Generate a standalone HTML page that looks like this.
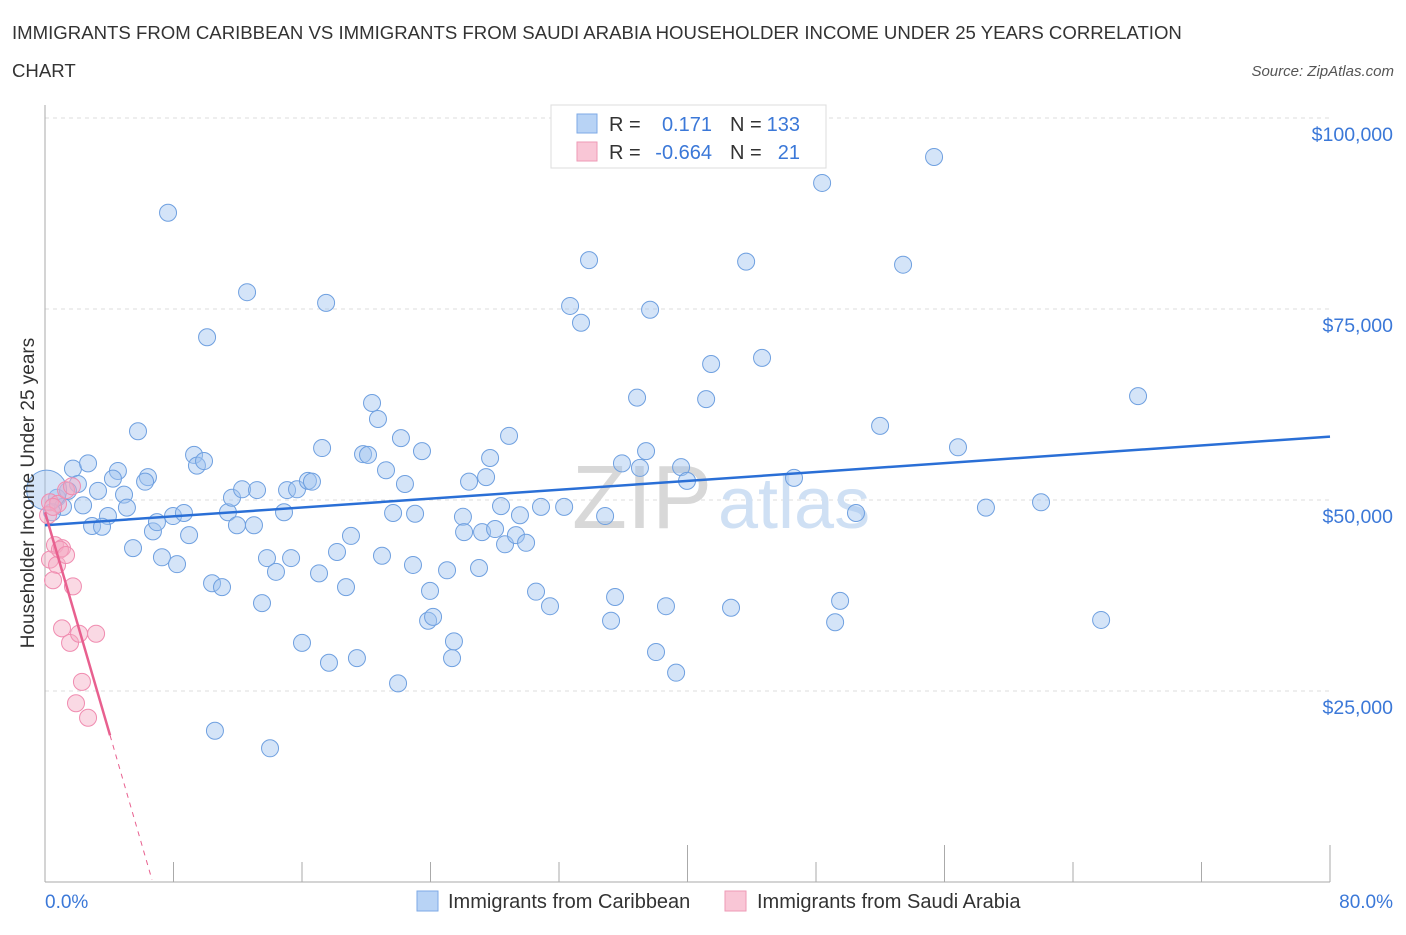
<!DOCTYPE html>
<html><head><meta charset="utf-8"><style>
body{margin:0;background:#fff;font-family:"Liberation Sans",sans-serif;}
svg text{font-family:"Liberation Sans",sans-serif;}
</style></head><body>
<svg id="c" width="1406" height="930" xmlns="http://www.w3.org/2000/svg">
<text x="12" y="39" font-size="18.6" fill="#333">IMMIGRANTS FROM CARIBBEAN VS IMMIGRANTS FROM SAUDI ARABIA HOUSEHOLDER INCOME UNDER 25 YEARS CORRELATION</text>
<text x="12" y="77" font-size="18.6" fill="#333">CHART</text>
<text x="1394" y="76" font-size="15" fill="#555" font-style="italic" text-anchor="end">Source: ZipAtlas.com</text>
<g id="grid"></g>
<text x="712" y="528" font-size="90" fill="#d8d8d8" font-family="Liberation Serif" text-anchor="end">ZIP</text>
<text x="718" y="528" font-size="72" fill="#cfe0f4">atlas</text>
<g id="pts"></g>
<g id="lines"></g>
<text transform="translate(34,493) rotate(-90)" font-size="19" fill="#333" text-anchor="middle">Householder Income Under 25 years</text>
<text x="45" y="908" font-size="19" fill="#3b78d8">0.0%</text>
<text x="1393" y="908" font-size="19" fill="#3b78d8" text-anchor="end">80.0%</text>
<g>
<rect x="551" y="105" width="275" height="63" fill="#fff" stroke="#ddd"/>
<rect x="577" y="114" width="20" height="19" fill="#b8d3f5" stroke="#7eaae6"/>
<rect x="577" y="142" width="20" height="19" fill="#f9c6d6" stroke="#ee9ab6"/>
<text x="609" y="131" font-size="20" fill="#333">R =</text><text x="712" y="131" font-size="20" fill="#3b78d8" text-anchor="end">0.171</text>
<text x="730" y="131" font-size="20" fill="#333">N =</text><text x="800" y="131" font-size="20" fill="#3b78d8" text-anchor="end">133</text>
<text x="609" y="159" font-size="20" fill="#333">R =</text><text x="712" y="159" font-size="20" fill="#3b78d8" text-anchor="end">-0.664</text>
<text x="730" y="159" font-size="20" fill="#333">N =</text><text x="800" y="159" font-size="20" fill="#3b78d8" text-anchor="end">21</text>
</g>
<g>
<rect x="417" y="891" width="21" height="20" fill="#b8d3f5" stroke="#7eaae6"/>
<text x="448" y="908" font-size="20" fill="#333">Immigrants from Caribbean</text>
<rect x="725" y="891" width="21" height="20" fill="#f9c6d6" stroke="#ee9ab6"/>
<text x="757" y="908" font-size="20" fill="#333">Immigrants from Saudi Arabia</text>
</g>
</svg>
<script>
const yTicks=[25000,50000,75000,100000];
const yTickLabels=["$25,000","$50,000","$75,000","$100,000"];
const caribX=[7.66,12.58,17.5,10.09,5.79,1.74,2.68,4.54,4.23,2.05,3.3,4.92,6.41,6.23,2.37,5.1,3.92,2.93,3.55,5.48,6.72,6.97,7.28,8.22,7.97,8.65,8.97,9.28,9.46,9.9,10.4,11.02,11.39,11.64,11.95,12.27,13.01,13.2,13.51,13.82,14.38,14.88,15.07,15.32,15.69,16,16.37,16.62,17.06,17.25,17.68,18.18,18.74,19.05,19.42,19.8,20.11,20.36,20.73,20.98,21.23,21.67,21.98,22.16,22.41,22.91,23.04,23.47,23.85,23.97,24.16,25.03,25.34,25.46,26.02,26.09,26.4,27.02,27.21,27.46,27.71,28.02,28.39,28.64,28.89,29.32,29.57,29.95,30.57,30.88,31.44,32.32,32.69,33.37,33.87,34.87,35.24,35.49,35.92,36.86,37.04,37.42,37.67,38.04,38.66,39.29,39.6,39.97,41.16,41.47,42.71,43.65,44.64,46.63,48.38,49.19,49.5,50.49,51.99,53.42,55.35,56.84,58.58,62.01,65.75,68.05,10.58,14.01,0.75,1.12,0.44,1.43,0.1];
const caribY=[87.6,77.2,75.8,71.3,59,54.1,54.8,53.8,52.8,52.1,51.2,50.7,53,52.4,49.3,49,47.9,46.6,46.5,43.7,45.9,47.1,42.5,41.6,47.9,48.3,45.4,55.9,54.5,55.1,39.1,38.6,48.4,50.3,46.7,51.4,46.7,51.3,36.5,42.4,40.6,48.4,51.3,42.4,51.4,31.3,52.5,52.4,40.4,56.8,28.7,43.2,38.6,45.3,29.3,56,55.9,62.7,60.6,42.7,53.9,48.3,26,58.1,52.1,41.5,48.2,56.4,34.2,38.1,34.7,40.8,29.3,31.5,47.8,45.8,52.4,41.1,45.8,53,55.5,46.2,49.2,44.2,58.4,45.4,48,44.4,38,49.1,36.1,49.1,75.4,73.2,81.4,47.9,34.2,37.3,54.8,63.4,54.2,56.4,74.9,30.1,36.1,27.4,54.3,52.5,63.2,67.8,35.9,81.2,68.6,52.9,91.5,34,36.8,48.3,59.7,80.8,94.9,56.9,49,49.7,34.3,63.6,19.8,17.5,50.3,49.1,48.4,51.2,51.3];
const saudiX=[0.31,0.81,1.31,1.68,0.62,1.06,0.31,0.75,0.5,1.74,1.06,1.56,2.12,3.18,2.3,1.93,2.68,0.93,0.19,1.31,0.5];
const saudiY=[49.7,49.5,51.3,51.8,44.1,43.7,42.2,41.5,39.5,38.7,33.2,31.3,32.5,32.5,26.2,23.4,21.5,43.5,48,42.8,49.1];
const caribTrend=[46.7,58.3];
const saudiTrend=[48.4,19.2,0.3];
const saudiTrendX=[0,4.05,6.66];
const NS="http://www.w3.org/2000/svg";
const X=v=>45+v/80*1285, Y=v=>882-v/25*191;
function mk(t,a,p){const e=document.createElementNS(NS,t);for(const k in a)e.setAttribute(k,a[k]);p.appendChild(e);return e;}
const grid=document.getElementById('grid');
yTicks.forEach((t,i)=>{
 const l=mk('line',{x1:45,x2:1330,y1:Y(t/1000),y2:Y(t/1000),stroke:'#ddd','stroke-dasharray':'4,4'},grid);
 
 
 const tx=mk('text',{x:1393,y:Y(t/1000)+23,'font-size':19.5,fill:'#3b78d8','text-anchor':'end'},grid);
 tx.textContent=yTickLabels[i];
 
 
});
const ax=mk('line',{x1:45,x2:45,y1:105,y2:882,stroke:'#aaa'},grid);


const bx=mk('line',{x1:45,x2:1330,y1:882,y2:882,stroke:'#aaa'},grid);


for(let i=1;i<=10;i++){
 const long=(i==5||i==7||i==10);
 const t=mk('line',{x1:X(i*8),x2:X(i*8),y1:long?845:862,y2:882,stroke:'#aaa'},grid);
 
 
}
const pts=document.getElementById('pts');
caribX.forEach((x,i)=>{
 const c=mk('circle',{cx:X(x),cy:Y(caribY[i]),r:i==caribX.length-1?20:8.5,fill:'rgba(160,196,240,0.45)',stroke:'#6fa0e0','stroke-width':1},pts);
 
 
});
saudiX.forEach((x,i)=>{
 const c=mk('circle',{cx:X(x),cy:Y(saudiY[i]),r:8.5,fill:'rgba(245,170,196,0.45)',stroke:'#f08cb0','stroke-width':1},pts);
 
 
});
const lines=document.getElementById('lines');
const bl=mk('line',{x1:X(0),y1:Y(caribTrend[0]),x2:X(80),y2:Y(caribTrend[1]),stroke:'#2a6fd6','stroke-width':2.5},lines);


const pl=mk('line',{x1:X(saudiTrendX[0]),y1:Y(saudiTrend[0]),x2:X(saudiTrendX[1]),y2:Y(saudiTrend[1]),stroke:'#e8608f','stroke-width':2.5},lines);


const pd=mk('line',{x1:X(saudiTrendX[1]),y1:Y(saudiTrend[1]),x2:X(saudiTrendX[2]),y2:Y(saudiTrend[2]),stroke:'#e8608f','stroke-width':1,'stroke-dasharray':'5,5'},lines);


</script>
</body></html>
